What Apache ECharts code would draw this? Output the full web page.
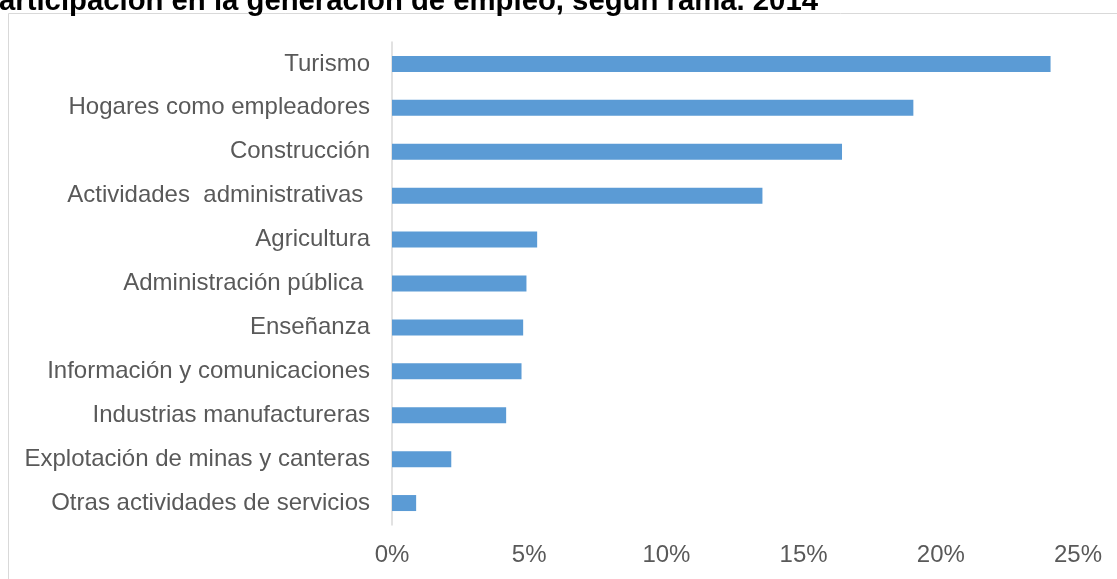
<!DOCTYPE html>
<html>
<head>
<meta charset="utf-8">
<script src="https://cdn.jsdelivr.net/npm/echarts@6/dist/echarts.min.js"></script>
<style>
  html, body { margin: 0; padding: 0; background: #fff; }
  #chart { width: 1117px; height: 579px; }
</style>
</head>
<body>
<div id="chart"></div>
<script>
// Ramas de actividad (de arriba hacia abajo)
const ramas = [
  'Turismo',
  'Hogares como empleadores',
  'Construcción',
  'Actividades  administrativas ',
  'Agricultura',
  'Administración pública ',
  'Enseñanza',
  'Información y comunicaciones',
  'Industrias manufactureras',
  'Explotación de minas y canteras',
  'Otras actividades de servicios'
];
// Participación en la generación de empleo (%)
const participacion = [24.0, 19.0, 16.4, 13.5, 5.29, 4.9, 4.78, 4.72, 4.16, 2.16, 0.88];
const titulo = 'Participación en la generación de empleo, según rama. 2014';

const chart = echarts.init(document.getElementById('chart'), null, { renderer: 'canvas' });
const fuente = '"Liberation Sans", Arial, sans-serif';

chart.setOption({
  animation: false,
  backgroundColor: '#ffffff',
  textStyle: { fontFamily: fuente },
  graphic: [
    {
      type: 'rect',
      shape: { x: 8.5, y: 13.5, width: 1300, height: 1000 },
      style: { fill: 'none', stroke: '#d9d9d9', lineWidth: 1 },
      silent: true
    },
    {
      type: 'text',
      x: 818, y: 16,
      style: {
        text: titulo,
        fontFamily: fuente,
        fontWeight: 'bold',
        fontSize: 29.3,
        fill: '#000000',
        align: 'right',
        verticalAlign: 'bottom'
      },
      silent: true
    }
  ],
  grid: { left: 392, right: 39, top: 42, bottom: 54, containLabel: false, outerBoundsMode: 'none' },
  xAxis: {
    type: 'value',
    min: 0, max: 25, interval: 5,
    axisLine: { show: false },
    axisTick: { show: false },
    splitLine: { show: false },
    axisLabel: {
      formatter: '{value}%',
      color: '#595959',
      fontSize: 24,
      fontFamily: fuente,
      margin: 18
    }
  },
  yAxis: {
    type: 'category',
    data: ramas,
    inverse: true,
    axisLine: { show: true, lineStyle: { color: '#d9d9d9', width: 1.5 } },
    axisTick: { show: false },
    splitLine: { show: false },
    axisLabel: {
      color: '#595959',
      fontSize: 24,
      fontFamily: fuente,
      margin: 22,
      padding: [4, 0, 0, 0]
    }
  },
  series: [{
    type: 'bar',
    data: participacion,
    barWidth: 16,
    itemStyle: { color: '#5b9bd5' },
    silent: true
  }]
});
</script>
</body>
</html>
